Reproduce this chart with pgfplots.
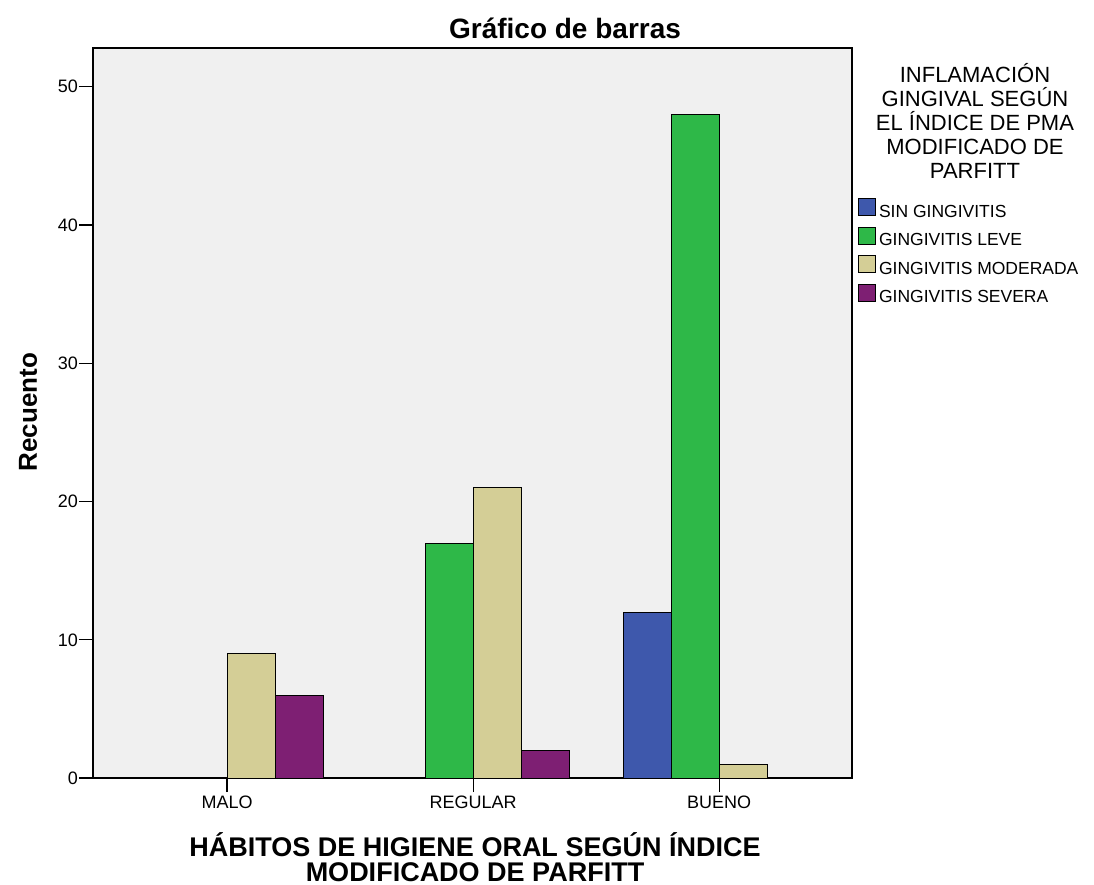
\documentclass[border=0pt]{standalone}
\usepackage{fontspec}
\setmainfont{Liberation Sans}
\usepackage{pgfplots}
\pgfplotsset{compat=1.18}
\definecolor{cSin}{RGB}{62,88,172}
\definecolor{cLeve}{RGB}{46,184,72}
\definecolor{cMod}{RGB}{212,206,150}
\definecolor{cSev}{RGB}{126,31,115}
\definecolor{bgc}{RGB}{240,240,240}
\pgfplotsset{mybar/.style 2 args={ybar, bar width=48pt, bar shift=#2, fill=#1, draw=black, line width=0.8pt,
  legend image code/.code={\draw[fill=#1,draw=black,line width=0.8pt] (0pt,-3pt) rectangle (17pt,14pt);}}}
\begin{document}
\begin{tikzpicture}
\begin{axis}[
  scale only axis, width=759pt, height=730pt,
  xmin=-0.545, xmax=2.54, ymin=0, ymax=52.8,
  xtick={0,1,2}, xticklabels={MALO,REGULAR,BUENO},
  ytick={0,10,20,30,40,50},
  /pgf/number format/assume math mode=true,
  tick align=outside, major tick length=14pt,
  xtick pos=left, ytick pos=left,
  tick style={draw=black, line width=1.2pt},
  axis background/.style={fill=bgc},
  axis line style={black, line width=1.2pt},
  ticklabel style={font=\fontsize{18}{21}\selectfont},
  yticklabel style={inner sep=1pt},
  clip=false,
  legend style={at={(rel axis cs:1.004,0.797)}, anchor=north west, draw=none, fill=none,
    font=\fontsize{17.5}{20}\selectfont, row sep=3.5pt,
    nodes={inner sep=3pt, text height=12pt, text depth=3pt}},
  legend cell align=left,
]
\addplot[mybar={cSin}{-72pt}] coordinates {(2,12)};
\addplot[mybar={cLeve}{-24pt}] coordinates {(1,17) (2,48)};
\addplot[mybar={cMod}{24pt}] coordinates {(0,9) (1,21) (2,1)};
\addplot[mybar={cSev}{72pt}] coordinates {(0,6) (1,2)};
\legend{SIN GINGIVITIS, GINGIVITIS LEVE, GINGIVITIS MODERADA, GINGIVITIS SEVERA}
\draw[black, line width=1.2pt] (axis cs:0,0) -- ++(0pt,-14pt);
\draw[black, line width=1.2pt] (axis cs:1,0) -- ++(0pt,-14pt);
\draw[black, line width=1.2pt] (axis cs:2,0) -- ++(0pt,-14pt);
\path (rel axis cs:-0.1225,-0.1438) rectangle (rel axis cs:1.3188,1.0658);
\node[font=\fontsize{28}{32}\selectfont\bfseries] at (rel axis cs:0.6219,1.0274) {Gráfico de barras};
\node[font=\fontsize{27}{25}\selectfont\bfseries, align=center] at (rel axis cs:0.5033,-0.108) {HÁBITOS DE HIGIENE ORAL SEGÚN ÍNDICE\\MODIFICADO DE PARFITT};
\node[font=\fontsize{26}{30}\selectfont\bfseries, rotate=90] at (rel axis cs:-0.0856,0.5014) {Recuento};
\node[font=\fontsize{22}{24}\selectfont, align=center] at (rel axis cs:1.162,0.9) {INFLAMACIÓN\\GINGIVAL SEGÚN\\EL ÍNDICE DE PMA\\MODIFICADO DE\\PARFITT};
\end{axis}
\end{tikzpicture}
\end{document}
